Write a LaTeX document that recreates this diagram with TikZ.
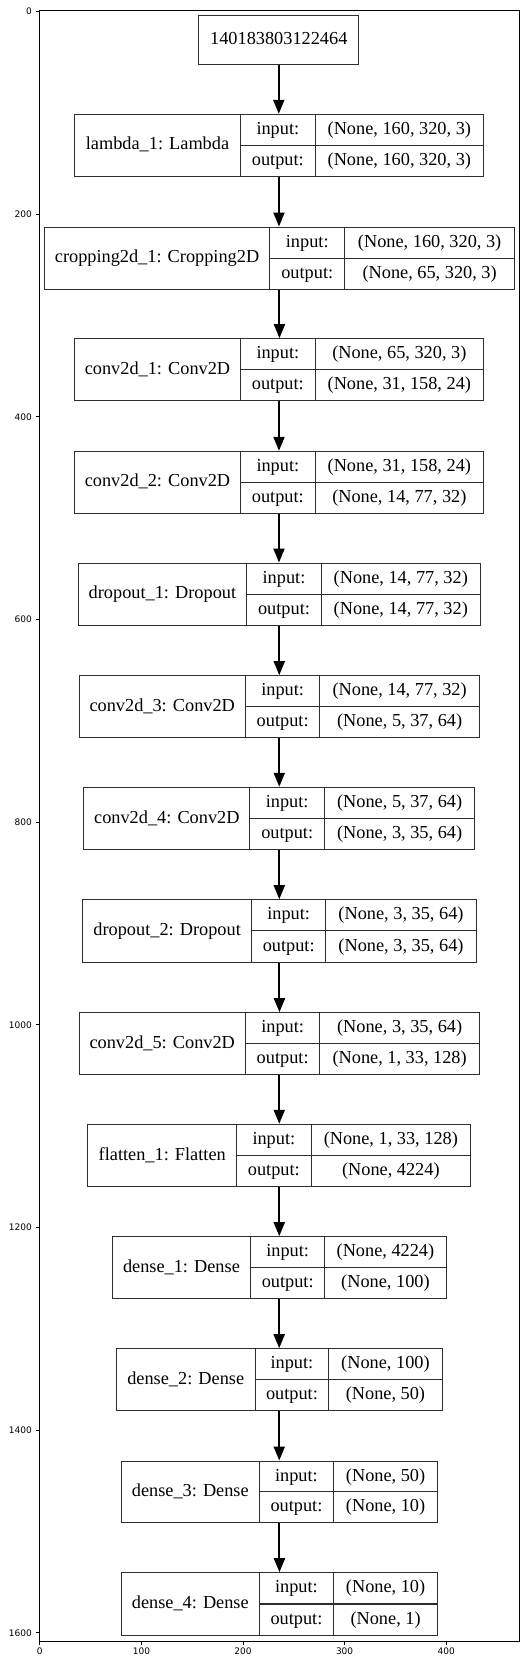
\documentclass[tikz,border=0pt]{standalone}
\usepackage{fontspec}
\setmainfont{Liberation Serif}
\newfontfamily\tickfont{DejaVu Sans}
\usetikzlibrary{arrows.meta}
\begin{document}
\begin{tikzpicture}[x=1pt,y=-1pt,
  box/.style={draw=black!82, line width=1pt, inner sep=0pt},
  sepline/.style={draw=black!82, line width=1pt},
  txt/.style={inner sep=0pt, font=\fontsize{18.3}{20}\selectfont, text height=12.7pt, text depth=3.3pt},
  arr/.style={line width=2pt, -{Triangle[length=14pt,width=11pt]}},
  axisline/.style={line width=0.9pt, draw=black},
  tickmark/.style={line width=0.8pt, draw=black},
  ticklbl/.style={inner sep=0pt, font=\tickfont\fontsize{9}{10}\selectfont}
]
\fill[white] (0,0) rectangle (529,1665);
\useasboundingbox (0,0) rectangle (529,1665);

% axes frame and ticks
\draw[axisline] (39.3,10.5) rectangle (519.3,1641.3);
\foreach \i in {0,...,4}{
  \pgfmathsetmacro\xx{39.8+101.6*\i}
  \draw[tickmark] (\xx,1641.3) -- (\xx,1644.8);
  \node[ticklbl, anchor=north] (xt\i) at (\xx,1647.8) {\the\numexpr\i*100\relax};
}
\foreach \j in {0,...,8}{
  \pgfmathsetmacro\yy{11.6+202.64*\j}
  \draw[tickmark] (35.8,\yy) -- (39.3,\yy);
  \node[ticklbl, anchor=east] (yt\j) at (32,\yy) {\the\numexpr\j*200\relax};
}

% input node
\node[box, txt, minimum width=159.8pt, minimum height=48.6pt] (inp) at (278.8,40) {140183803122464};

% layer records
\foreach \nm/\yt/\yb/\xl/\xp/\xq/\xr/\lab/\ip/\op in {
lam/114.3/176/74.3/240.7/315/483.7/{lambda\_1: Lambda}/{(None, 160, 320, 3)}/{(None, 160, 320, 3)},
crop/227/289/44.3/269.8/344.7/514.6/{cropping2d\_1: Cropping2D}/{(None, 160, 320, 3)}/{(None, 65, 320, 3)},
cA/338.7/400.7/74.3/240.7/315/483.7/{conv2d\_1: Conv2D}/{(None, 65, 320, 3)}/{(None, 31, 158, 24)},
cB/451.3/513/74.3/240.7/315/483.7/{conv2d\_2: Conv2D}/{(None, 31, 158, 24)}/{(None, 14, 77, 32)},
dA/563/625/78/246.9/321.1/480.5/{dropout\_1: Dropout}/{(None, 14, 77, 32)}/{(None, 14, 77, 32)},
cC/675.7/737.7/79/245.5/319.8/479.5/{conv2d\_3: Conv2D}/{(None, 14, 77, 32)}/{(None, 5, 37, 64)},
cD/787.3/849.3/83.8/249.9/324.5/474.8/{conv2d\_4: Conv2D}/{(None, 5, 37, 64)}/{(None, 3, 35, 64)},
dB/899.7/962/82.8/251.5/325.9/476.1/{dropout\_2: Dropout}/{(None, 3, 35, 64)}/{(None, 3, 35, 64)},
cE/1012.7/1074/79/245.5/319.8/479.5/{conv2d\_5: Conv2D}/{(None, 3, 35, 64)}/{(None, 1, 33, 128)},
fl/1124.3/1186.3/87.8/236.7/311/470.7/{flatten\_1: Flatten}/{(None, 1, 33, 128)}/{(None, 4224)},
eA/1236.7/1298/112.4/250.5/324.9/446/{dense\_1: Dense}/{(None, 4224)}/{(None, 100)},
eB/1348.7/1410.7/116.5/255/328.9/442/{dense\_2: Dense}/{(None, 100)}/{(None, 50)},
eC/1461/1522.3/121.3/259.3/333.6/437.6/{dense\_3: Dense}/{(None, 50)}/{(None, 10)},
eD/1572.7/1635/121.3/259.3/333.6/437.6/{dense\_4: Dense}/{(None, 10)}/{(None, 1)}
}{
  \pgfmathsetmacro\ym{(\yt+\yb)/2}
  \pgfmathsetmacro\yi{(\yt+\ym)/2}
  \pgfmathsetmacro\yo{(\ym+\yb)/2}
  \pgfmathsetmacro\bxw{\xr-\xl}
  \pgfmathsetmacro\bxh{\yb-\yt}
  \node[box, minimum width=\bxw pt, minimum height=\bxh pt] (\nm) at ({(\xl+\xr)/2},\ym) {};
  \draw[sepline] (\xp,\yt) -- (\xp,\yb) (\xq,\yt) -- (\xq,\yb) (\xp,\ym) -- (\xr,\ym);
  \node[txt] (\nm-l) at ({(\xl+\xp)/2},\ym) {\lab};
  \node[txt] (\nm-i) at ({(\xp+\xq)/2},\yi) {input:};
  \node[txt] (\nm-o) at ({(\xp+\xq)/2},\yo) {output:};
  \node[txt] (\nm-is) at ({(\xq+\xr)/2},\yi) {\ip};
  \node[txt] (\nm-os) at ({(\xq+\xr)/2},\yo) {\op};
}
% slightly heavier middle rule in the last record
\draw[sepline, line width=1.9pt] (259.3,1603.85) -- (437.6,1603.85);

% connectors
\foreach \a/\c in {inp/lam, lam/crop, crop/cA, cA/cB, cB/dA, dA/cC, cC/cD, cD/dB, dB/cE, cE/fl, fl/eA, eA/eB, eB/eC, eC/eD}
  \draw[arr] (\a.south) -- (\a.south |- \c.north);
\end{tikzpicture}
\end{document}
